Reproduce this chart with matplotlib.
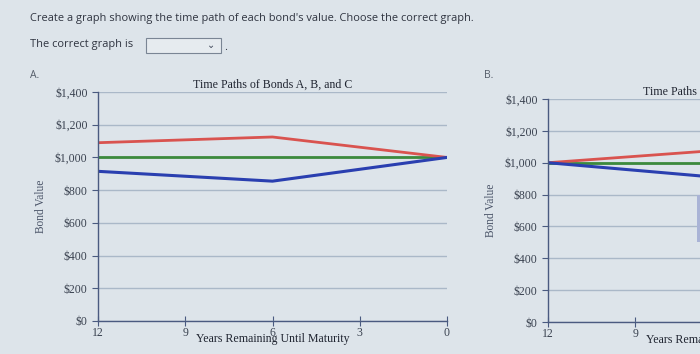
import matplotlib
matplotlib.use("Agg")
import matplotlib.pyplot as plt
from matplotlib.patches import Rectangle
from matplotlib.ticker import FuncFormatter

# ---- data ----
years = [12, 6, 0]
bond_a_A = [1090, 1125, 1000]   # red (premium)
bond_b_A = [1000, 1000, 1000]   # green (par)
bond_c_A = [915, 855, 1000]     # blue (discount)

years_B = [12, 6, 0]
bond_a_B = [1000, 1080, 1160]
bond_b_B = [1000, 1000, 1000]
bond_c_B = [1000, 905, 810]

yticks = [0, 200, 400, 600, 800, 1000, 1200, 1400]
xticks = [12, 9, 6, 3, 0]
title = "Time Paths of Bonds A, B, and C"
xlabel = "Years Remaining Until Maturity"
ylabel = "Bond Value"

W, H = 700, 354
bg = "#dde4ea"
fig = plt.figure(figsize=(W / 100, H / 100), dpi=100)
fig.patch.set_facecolor(bg)

sans = ["Open Sans", "DejaVu Sans"]
serif = ["Liberation Serif", "DejaVu Serif"]
txtcol = "#3a4250"

fig.text(30 / W, 1 - 18 / H, "Create a graph showing the time path of each bond's value. Choose the correct graph.",
         family=sans, fontsize=7.9, color="#2f3440", va="center")
fig.text(30 / W, 1 - 45 / H, "The correct graph is", family=sans, fontsize=7.9, color="#2f3440", va="center")
fig.patches.append(Rectangle((146 / W, 1 - 53 / H), 75 / W, 15 / H, transform=fig.transFigure,
                             facecolor="#e6ebef", edgecolor="#7a8594", lw=0.8))
fig.text(211 / W, 1 - 45 / H, "\u2304", family=sans, fontsize=7, color="#40485a", ha="center", va="center")
fig.text(224 / W, 1 - 47 / H, ".", family=sans, fontsize=8, color="#2f3440", va="center")
fig.text(30 / W, 1 - 76 / H, "A.", family=sans, fontsize=7.5, color="#555d6a", va="center")
fig.text(484 / W, 1 - 76 / H, "B.", family=sans, fontsize=7.5, color="#555d6a", va="center")

fmt = FuncFormatter(lambda v, p: "$0" if v == 0 else f"${v:,.0f}")


def make_axes(left_px, top_px, bottom_px, width_px, xs, a, b, c):
    ax = fig.add_axes([left_px / W, 1 - bottom_px / H, width_px / W, (bottom_px - top_px) / H])
    ax.set_facecolor(bg)
    ax.set_xlim(12, 0)
    ax.set_ylim(0, 1400)
    ax.set_yticks(yticks)
    ax.set_xticks(xticks)
    ax.yaxis.set_major_formatter(fmt)
    ax.grid(axis="y", color="#aab8c8", lw=1.0)
    for s in ["top", "right"]:
        ax.spines[s].set_visible(False)
    for s in ["left", "bottom"]:
        ax.spines[s].set_color("#4a5a80")
        ax.spines[s].set_linewidth(1.0)
    ax.tick_params(axis="both", colors="#4a5a80", labelcolor=txtcol, labelsize=8.5, length=4, width=0.8)
    ax.tick_params(axis="x", pad=0.5, direction="inout", length=7)
    for lab in ax.get_xticklabels() + ax.get_yticklabels():
        lab.set_family(serif)
    ax.plot(xs, b, color="#3c8a3c", lw=2.0)
    ax.plot(xs, a, color="#d9534f", lw=2.0)
    ax.plot(xs, c, color="#2a3fb0", lw=2.2)
    ax.set_title(title, family=serif, fontsize=8.6, color="#1f2430", pad=3)
    ax.set_xlabel(xlabel, family=serif, fontsize=8.6, color="#1f2430", labelpad=-4)
    ax.set_ylabel(ylabel, family=serif, fontsize=8.3, color="#4a5468", labelpad=6)
    return ax


make_axes(98, 92, 321, 349, years, bond_a_A, bond_b_A, bond_c_A)
make_axes(548, 99, 322, 349, years_B, bond_a_B, bond_b_B, bond_c_B)

fig.patches.append(Rectangle((697 / W, 1 - 242 / H), 3 / W, 47 / H, transform=fig.transFigure,
                             facecolor="#a9b3d6", edgecolor="none", zorder=10))

fig.savefig("out.png", dpi=100, facecolor=bg)
